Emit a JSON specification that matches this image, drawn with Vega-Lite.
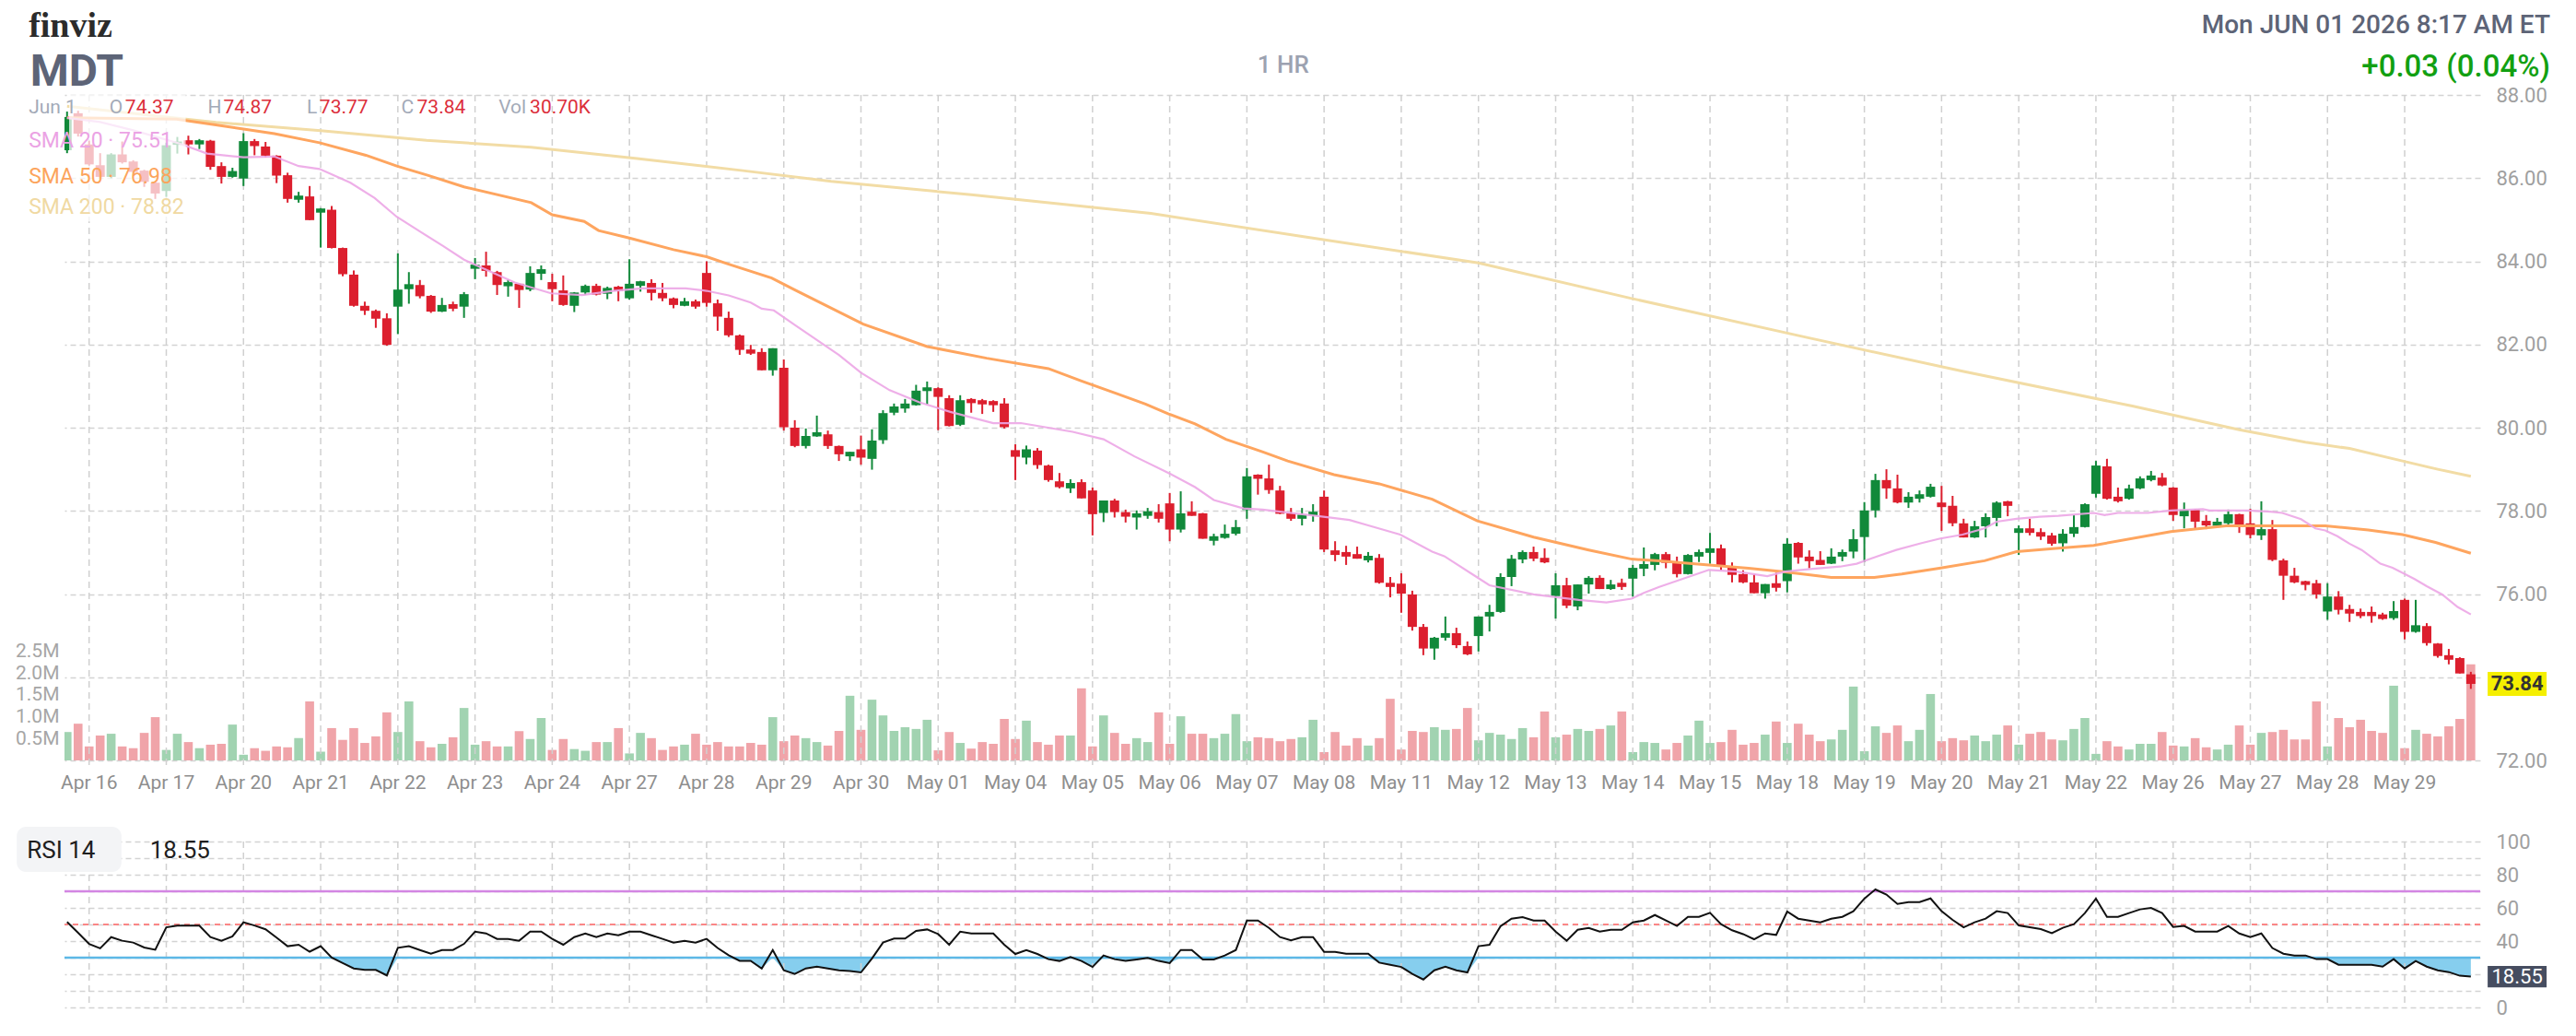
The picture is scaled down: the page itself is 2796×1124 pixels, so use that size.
{
"$schema": "https://vega.github.io/schema/vega-lite/v6.json",
"width": 2622,
"height": 1021,
"autosize": {"type": "none"},
"padding": {"left": 70, "top": 103, "right": 104, "bottom": 0},
"background": "#ffffff",
"config": {"view": {"stroke": null}, "font": "Roboto", "axis": {"labelFont": "Roboto"}, "text": {"font": "Roboto"}},
"datasets": {
"bars": [
{"i":-2,"o":86.67,"h":87.6,"l":86.6,"c":87.47,"v":650000,"r":51.5},
{"i":-1,"o":87.56,"h":87.62,"l":87.0,"c":87.07,"v":840000,"r":45.0},
{"i":0,"o":86.81,"h":86.9,"l":86.3,"c":86.33,"v":320000,"r":38.3},
{"i":1,"o":86.31,"h":86.6,"l":86.0,"c":86.03,"v":570000,"r":35.6},
{"i":2,"o":86.03,"h":86.6,"l":86.0,"c":86.57,"v":610000,"r":42.4},
{"i":3,"o":86.57,"h":86.88,"l":86.35,"c":86.38,"v":320000,"r":40.2},
{"i":4,"o":86.4,"h":86.43,"l":86.12,"c":86.15,"v":280000,"r":39.1},
{"i":5,"o":86.18,"h":86.2,"l":85.79,"c":85.91,"v":630000,"r":36.1},
{"i":6,"o":85.89,"h":85.9,"l":85.5,"c":85.63,"v":990000,"r":34.8},
{"i":7,"o":85.69,"h":86.85,"l":85.55,"c":86.79,"v":240000,"r":48.3},
{"i":8,"o":86.8,"h":86.99,"l":86.59,"c":86.88,"v":610000,"r":49.3},
{"i":9,"o":86.91,"h":87.02,"l":86.57,"c":86.81,"v":420000,"r":49.3},
{"i":10,"o":86.81,"h":86.94,"l":86.7,"c":86.91,"v":280000,"r":49.3},
{"i":11,"o":86.9,"h":86.92,"l":86.2,"c":86.27,"v":360000,"r":42.4},
{"i":12,"o":86.29,"h":86.38,"l":85.87,"c":86.03,"v":380000,"r":40.2},
{"i":13,"o":86.03,"h":86.25,"l":86.01,"c":86.17,"v":820000,"r":42.8},
{"i":14,"o":85.99,"h":87.08,"l":85.81,"c":86.89,"v":130000,"r":51.3},
{"i":15,"o":86.89,"h":86.94,"l":86.55,"c":86.77,"v":280000,"r":49.4},
{"i":16,"o":86.76,"h":86.87,"l":86.5,"c":86.54,"v":220000,"r":47.1},
{"i":17,"o":86.54,"h":86.55,"l":85.88,"c":86.06,"v":320000,"r":42.1},
{"i":18,"o":86.07,"h":86.13,"l":85.41,"c":85.5,"v":300000,"r":36.9},
{"i":19,"o":85.48,"h":85.67,"l":85.41,"c":85.58,"v":510000,"r":37.8},
{"i":20,"o":85.56,"h":85.81,"l":84.99,"c":84.99,"v":1350000,"r":33.6},
{"i":21,"o":85.17,"h":85.28,"l":84.33,"c":85.27,"v":200000,"r":36.9},
{"i":22,"o":85.24,"h":85.33,"l":84.31,"c":84.32,"v":740000,"r":30.0},
{"i":23,"o":84.32,"h":84.33,"l":83.64,"c":83.69,"v":470000,"r":26.7},
{"i":24,"o":83.68,"h":83.78,"l":82.91,"c":82.93,"v":740000,"r":23.5},
{"i":25,"o":82.93,"h":83.03,"l":82.71,"c":82.81,"v":400000,"r":22.6},
{"i":26,"o":82.81,"h":82.84,"l":82.4,"c":82.62,"v":550000,"r":22.6},
{"i":27,"o":82.63,"h":82.75,"l":81.97,"c":81.99,"v":1100000,"r":19.3},
{"i":28,"o":82.91,"h":84.19,"l":82.25,"c":83.32,"v":650000,"r":35.9},
{"i":29,"o":83.33,"h":83.74,"l":82.98,"c":83.45,"v":1350000,"r":36.9},
{"i":30,"o":83.43,"h":83.55,"l":83.11,"c":83.16,"v":440000,"r":34.6},
{"i":31,"o":83.17,"h":83.19,"l":82.76,"c":82.79,"v":300000,"r":32.4},
{"i":32,"o":82.79,"h":83.12,"l":82.78,"c":82.95,"v":380000,"r":34.6},
{"i":33,"o":82.97,"h":83.03,"l":82.8,"c":82.86,"v":530000,"r":34.6},
{"i":34,"o":82.91,"h":83.26,"l":82.64,"c":83.21,"v":1200000,"r":38.3},
{"i":35,"o":83.82,"h":84.08,"l":83.57,"c":83.92,"v":360000,"r":45.7},
{"i":36,"o":83.9,"h":84.23,"l":83.63,"c":83.77,"v":440000,"r":44.6},
{"i":37,"o":83.74,"h":83.77,"l":83.19,"c":83.43,"v":320000,"r":41.3},
{"i":38,"o":83.4,"h":83.56,"l":83.15,"c":83.5,"v":320000,"r":41.3},
{"i":39,"o":83.46,"h":83.47,"l":82.88,"c":83.31,"v":670000,"r":40.2},
{"i":40,"o":83.32,"h":83.88,"l":83.28,"c":83.72,"v":490000,"r":45.7},
{"i":41,"o":83.7,"h":83.9,"l":83.55,"c":83.81,"v":970000,"r":45.7},
{"i":42,"o":83.5,"h":83.7,"l":83.04,"c":83.33,"v":240000,"r":41.3},
{"i":43,"o":83.3,"h":83.66,"l":82.93,"c":82.95,"v":490000,"r":37.8},
{"i":44,"o":82.93,"h":83.26,"l":82.78,"c":83.25,"v":260000,"r":42.4},
{"i":45,"o":83.25,"h":83.44,"l":83.19,"c":83.41,"v":220000,"r":44.6},
{"i":46,"o":83.41,"h":83.46,"l":83.18,"c":83.2,"v":420000,"r":42.4},
{"i":47,"o":83.22,"h":83.39,"l":83.09,"c":83.36,"v":420000,"r":44.6},
{"i":48,"o":83.39,"h":83.41,"l":83.04,"c":83.29,"v":740000,"r":43.5},
{"i":49,"o":83.11,"h":84.05,"l":83.08,"c":83.46,"v":160000,"r":45.7},
{"i":50,"o":83.41,"h":83.53,"l":83.27,"c":83.52,"v":630000,"r":45.7},
{"i":51,"o":83.48,"h":83.57,"l":83.06,"c":83.24,"v":510000,"r":43.5},
{"i":52,"o":83.24,"h":83.48,"l":83.04,"c":83.11,"v":240000,"r":41.3},
{"i":53,"o":83.11,"h":83.13,"l":82.87,"c":82.95,"v":320000,"r":39.1},
{"i":54,"o":82.93,"h":83.12,"l":82.92,"c":83.04,"v":360000,"r":40.2},
{"i":55,"o":83.04,"h":83.08,"l":82.86,"c":82.91,"v":610000,"r":39.1},
{"i":56,"o":83.72,"h":84.0,"l":82.91,"c":83.0,"v":360000,"r":41.3},
{"i":57,"o":82.99,"h":83.08,"l":82.33,"c":82.67,"v":420000,"r":35.8},
{"i":58,"o":82.64,"h":82.79,"l":82.18,"c":82.22,"v":320000,"r":31.5},
{"i":59,"o":82.22,"h":82.24,"l":81.75,"c":81.87,"v":320000,"r":28.1},
{"i":60,"o":81.88,"h":81.99,"l":81.75,"c":81.78,"v":400000,"r":28.1},
{"i":61,"o":81.82,"h":81.91,"l":81.38,"c":81.38,"v":360000,"r":23.5},
{"i":62,"o":81.38,"h":81.91,"l":81.25,"c":81.91,"v":990000,"r":34.6},
{"i":63,"o":81.44,"h":81.64,"l":79.93,"c":80.01,"v":440000,"r":22.4},
{"i":64,"o":80.0,"h":80.18,"l":79.53,"c":79.56,"v":570000,"r":20.2},
{"i":65,"o":79.56,"h":79.98,"l":79.5,"c":79.8,"v":510000,"r":23.5},
{"i":66,"o":79.79,"h":80.29,"l":79.78,"c":79.89,"v":420000,"r":24.6},
{"i":67,"o":79.84,"h":79.93,"l":79.49,"c":79.56,"v":340000,"r":23.5},
{"i":68,"o":79.56,"h":79.57,"l":79.2,"c":79.36,"v":675000,"r":22.4},
{"i":69,"o":79.31,"h":79.42,"l":79.2,"c":79.42,"v":1480000,"r":22.0},
{"i":70,"o":79.48,"h":79.81,"l":79.11,"c":79.28,"v":700000,"r":21.1},
{"i":71,"o":79.25,"h":79.96,"l":78.99,"c":79.69,"v":1390000,"r":29.5},
{"i":72,"o":79.7,"h":80.42,"l":79.61,"c":80.35,"v":1030000,"r":39.1},
{"i":73,"o":80.36,"h":80.58,"l":80.3,"c":80.51,"v":675000,"r":41.5},
{"i":74,"o":80.46,"h":80.69,"l":80.36,"c":80.58,"v":760000,"r":41.5},
{"i":75,"o":80.54,"h":81.03,"l":80.53,"c":80.89,"v":720000,"r":46.1},
{"i":76,"o":80.88,"h":81.11,"l":80.56,"c":80.97,"v":930000,"r":47.0},
{"i":77,"o":80.95,"h":80.97,"l":79.94,"c":80.74,"v":230000,"r":44.2},
{"i":78,"o":80.71,"h":80.78,"l":80.03,"c":80.04,"v":650000,"r":37.8},
{"i":79,"o":80.07,"h":80.78,"l":80.04,"c":80.66,"v":400000,"r":45.7},
{"i":80,"o":80.69,"h":80.71,"l":80.36,"c":80.59,"v":270000,"r":44.6},
{"i":81,"o":80.66,"h":80.69,"l":80.33,"c":80.56,"v":420000,"r":44.6},
{"i":82,"o":80.64,"h":80.66,"l":80.38,"c":80.54,"v":380000,"r":44.6},
{"i":83,"o":80.58,"h":80.71,"l":79.98,"c":80.01,"v":950000,"r":37.8},
{"i":84,"o":79.46,"h":79.6,"l":78.74,"c":79.3,"v":490000,"r":32.2},
{"i":85,"o":79.28,"h":79.57,"l":79.12,"c":79.48,"v":910000,"r":34.6},
{"i":86,"o":79.45,"h":79.51,"l":79.01,"c":79.1,"v":420000,"r":32.2},
{"i":87,"o":79.09,"h":79.11,"l":78.7,"c":78.74,"v":360000,"r":29.1},
{"i":88,"o":78.71,"h":78.91,"l":78.54,"c":78.57,"v":570000,"r":28.0},
{"i":89,"o":78.54,"h":78.76,"l":78.43,"c":78.67,"v":570000,"r":30.4},
{"i":90,"o":78.69,"h":78.76,"l":78.3,"c":78.3,"v":1650000,"r":28.0},
{"i":91,"o":78.49,"h":78.56,"l":77.41,"c":77.92,"v":320000,"r":24.4},
{"i":92,"o":77.95,"h":78.25,"l":77.73,"c":78.25,"v":1030000,"r":31.3},
{"i":93,"o":78.25,"h":78.29,"l":77.84,"c":77.97,"v":630000,"r":29.1},
{"i":94,"o":77.97,"h":78.03,"l":77.72,"c":77.86,"v":380000,"r":28.0},
{"i":95,"o":77.84,"h":78.01,"l":77.55,"c":77.94,"v":510000,"r":28.9},
{"i":96,"o":77.88,"h":78.07,"l":77.81,"c":77.99,"v":420000,"r":29.9},
{"i":97,"o":77.97,"h":78.16,"l":77.72,"c":77.81,"v":1100000,"r":28.0},
{"i":98,"o":78.18,"h":78.43,"l":77.27,"c":77.55,"v":380000,"r":26.7},
{"i":99,"o":77.55,"h":78.47,"l":77.48,"c":77.94,"v":1010000,"r":34.6},
{"i":100,"o":77.98,"h":78.23,"l":77.88,"c":77.88,"v":610000,"r":34.6},
{"i":101,"o":77.94,"h":77.95,"l":77.33,"c":77.33,"v":610000,"r":28.9},
{"i":102,"o":77.28,"h":77.45,"l":77.17,"c":77.39,"v":510000,"r":28.9},
{"i":103,"o":77.35,"h":77.67,"l":77.33,"c":77.45,"v":610000,"r":31.3},
{"i":104,"o":77.45,"h":77.78,"l":77.41,"c":77.61,"v":1060000,"r":34.6},
{"i":105,"o":78.02,"h":79.03,"l":77.81,"c":78.83,"v":440000,"r":52.4},
{"i":106,"o":78.87,"h":78.88,"l":78.39,"c":78.77,"v":530000,"r":52.4},
{"i":107,"o":78.78,"h":79.11,"l":78.41,"c":78.5,"v":510000,"r":47.9},
{"i":108,"o":78.49,"h":78.6,"l":77.92,"c":77.93,"v":440000,"r":42.4},
{"i":109,"o":77.94,"h":78.07,"l":77.76,"c":77.81,"v":490000,"r":40.5},
{"i":110,"o":77.81,"h":78.07,"l":77.65,"c":77.91,"v":530000,"r":42.4},
{"i":111,"o":77.89,"h":78.16,"l":77.74,"c":77.98,"v":930000,"r":42.4},
{"i":112,"o":78.34,"h":78.49,"l":77.01,"c":77.07,"v":190000,"r":33.5},
{"i":113,"o":77.05,"h":77.27,"l":76.79,"c":76.94,"v":650000,"r":33.5},
{"i":114,"o":77.01,"h":77.16,"l":76.7,"c":76.9,"v":340000,"r":32.4},
{"i":115,"o":76.96,"h":77.14,"l":76.85,"c":76.85,"v":510000,"r":32.4},
{"i":116,"o":76.81,"h":77.01,"l":76.76,"c":76.92,"v":340000,"r":32.4},
{"i":117,"o":76.87,"h":76.96,"l":76.25,"c":76.27,"v":510000,"r":27.0},
{"i":118,"o":76.27,"h":76.41,"l":75.92,"c":76.17,"v":1410000,"r":25.7},
{"i":119,"o":76.25,"h":76.5,"l":75.55,"c":76.01,"v":250000,"r":24.4},
{"i":120,"o":75.99,"h":76.08,"l":75.12,"c":75.21,"v":675000,"r":20.2},
{"i":121,"o":75.21,"h":75.28,"l":74.53,"c":74.69,"v":650000,"r":16.8},
{"i":122,"o":74.69,"h":74.97,"l":74.42,"c":74.95,"v":760000,"r":22.4},
{"i":123,"o":74.95,"h":75.46,"l":74.88,"c":75.06,"v":700000,"r":24.6},
{"i":124,"o":75.06,"h":75.19,"l":74.7,"c":74.77,"v":720000,"r":22.4},
{"i":125,"o":74.75,"h":74.86,"l":74.53,"c":74.55,"v":1200000,"r":21.1},
{"i":126,"o":74.99,"h":75.46,"l":74.62,"c":75.46,"v":460000,"r":36.9},
{"i":127,"o":75.46,"h":75.74,"l":75.1,"c":75.57,"v":630000,"r":37.8},
{"i":128,"o":75.57,"h":76.5,"l":75.55,"c":76.41,"v":590000,"r":48.9},
{"i":129,"o":76.41,"h":76.94,"l":76.19,"c":76.85,"v":490000,"r":53.5},
{"i":130,"o":76.83,"h":77.05,"l":76.74,"c":77.01,"v":740000,"r":54.4},
{"i":131,"o":77.01,"h":77.14,"l":76.79,"c":76.85,"v":530000,"r":52.4},
{"i":132,"o":76.87,"h":77.1,"l":76.74,"c":76.76,"v":1120000,"r":52.4},
{"i":133,"o":75.95,"h":76.5,"l":75.41,"c":76.21,"v":530000,"r":45.7},
{"i":134,"o":76.21,"h":76.39,"l":75.66,"c":75.72,"v":590000,"r":40.2},
{"i":135,"o":75.7,"h":76.23,"l":75.61,"c":76.23,"v":720000,"r":46.8},
{"i":136,"o":76.23,"h":76.43,"l":76.01,"c":76.39,"v":675000,"r":47.9},
{"i":137,"o":76.39,"h":76.45,"l":76.12,"c":76.12,"v":720000,"r":45.7},
{"i":138,"o":76.12,"h":76.34,"l":76.1,"c":76.23,"v":800000,"r":46.8},
{"i":139,"o":76.27,"h":76.37,"l":76.1,"c":76.17,"v":1120000,"r":46.8},
{"i":140,"o":76.37,"h":76.7,"l":75.94,"c":76.63,"v":190000,"r":51.3},
{"i":141,"o":76.61,"h":77.12,"l":76.43,"c":76.72,"v":420000,"r":52.4},
{"i":142,"o":76.7,"h":76.99,"l":76.57,"c":76.96,"v":400000,"r":55.7},
{"i":143,"o":76.96,"h":77.01,"l":76.62,"c":76.75,"v":250000,"r":52.4},
{"i":144,"o":76.75,"h":76.9,"l":76.4,"c":76.48,"v":400000,"r":49.1},
{"i":145,"o":76.48,"h":76.96,"l":76.47,"c":76.94,"v":570000,"r":54.6},
{"i":146,"o":76.9,"h":77.07,"l":76.77,"c":77.01,"v":910000,"r":54.6},
{"i":147,"o":76.99,"h":77.47,"l":76.73,"c":77.1,"v":400000,"r":57.0},
{"i":148,"o":77.1,"h":77.19,"l":76.57,"c":76.66,"v":420000,"r":50.2},
{"i":149,"o":76.66,"h":76.76,"l":76.28,"c":76.46,"v":700000,"r":46.5},
{"i":150,"o":76.48,"h":76.57,"l":76.26,"c":76.28,"v":360000,"r":44.2},
{"i":151,"o":76.28,"h":76.48,"l":76.02,"c":76.02,"v":400000,"r":41.1},
{"i":152,"o":76.02,"h":76.24,"l":75.89,"c":76.24,"v":590000,"r":44.6},
{"i":153,"o":76.26,"h":76.51,"l":76.06,"c":76.15,"v":890000,"r":43.7},
{"i":154,"o":76.31,"h":77.34,"l":76.04,"c":77.21,"v":400000,"r":57.8},
{"i":155,"o":77.23,"h":77.25,"l":76.73,"c":76.88,"v":840000,"r":53.5},
{"i":156,"o":76.9,"h":77.05,"l":76.62,"c":76.79,"v":590000,"r":52.4},
{"i":157,"o":76.82,"h":77.03,"l":76.7,"c":76.7,"v":440000,"r":51.3},
{"i":158,"o":76.73,"h":77.1,"l":76.72,"c":76.9,"v":480000,"r":53.5},
{"i":159,"o":76.9,"h":77.07,"l":76.79,"c":77.01,"v":700000,"r":54.6},
{"i":160,"o":77.02,"h":77.56,"l":76.86,"c":77.32,"v":1690000,"r":58.0},
{"i":161,"o":77.37,"h":78.21,"l":76.77,"c":78.01,"v":210000,"r":65.6},
{"i":162,"o":78.01,"h":78.89,"l":77.84,"c":78.74,"v":780000,"r":71.1},
{"i":163,"o":78.74,"h":79.0,"l":78.29,"c":78.54,"v":630000,"r":68.0},
{"i":164,"o":78.54,"h":78.87,"l":78.18,"c":78.2,"v":800000,"r":62.4},
{"i":165,"o":78.2,"h":78.45,"l":78.07,"c":78.34,"v":440000,"r":63.5},
{"i":166,"o":78.29,"h":78.49,"l":78.2,"c":78.4,"v":700000,"r":63.5},
{"i":167,"o":78.34,"h":78.65,"l":78.32,"c":78.58,"v":1520000,"r":65.7},
{"i":168,"o":78.2,"h":78.6,"l":77.52,"c":78.09,"v":440000,"r":58.0},
{"i":169,"o":78.12,"h":78.36,"l":77.63,"c":77.7,"v":510000,"r":52.8},
{"i":170,"o":77.7,"h":77.81,"l":77.36,"c":77.36,"v":460000,"r":48.3},
{"i":171,"o":77.36,"h":77.76,"l":77.35,"c":77.63,"v":570000,"r":51.3},
{"i":172,"o":77.63,"h":77.94,"l":77.36,"c":77.85,"v":440000,"r":53.5},
{"i":173,"o":77.83,"h":78.23,"l":77.63,"c":78.2,"v":590000,"r":58.0},
{"i":174,"o":78.23,"h":78.24,"l":77.87,"c":78.12,"v":800000,"r":56.9},
{"i":175,"o":77.47,"h":77.65,"l":76.94,"c":77.58,"v":360000,"r":49.4},
{"i":176,"o":77.58,"h":77.81,"l":77.41,"c":77.47,"v":610000,"r":48.3},
{"i":177,"o":77.49,"h":77.58,"l":77.3,"c":77.38,"v":650000,"r":47.2},
{"i":178,"o":77.41,"h":77.47,"l":77.16,"c":77.21,"v":480000,"r":44.8},
{"i":179,"o":77.22,"h":77.56,"l":77.02,"c":77.45,"v":460000,"r":48.0},
{"i":180,"o":77.45,"h":77.9,"l":77.37,"c":77.61,"v":720000,"r":50.2},
{"i":181,"o":77.61,"h":78.18,"l":77.6,"c":78.16,"v":970000,"r":56.9},
{"i":182,"o":78.41,"h":79.2,"l":78.32,"c":79.09,"v":150000,"r":65.6},
{"i":183,"o":79.07,"h":79.25,"l":78.27,"c":78.29,"v":440000,"r":54.6},
{"i":184,"o":78.34,"h":78.56,"l":78.2,"c":78.23,"v":320000,"r":54.6},
{"i":185,"o":78.29,"h":78.63,"l":78.27,"c":78.54,"v":250000,"r":56.9},
{"i":186,"o":78.54,"h":78.83,"l":78.52,"c":78.78,"v":380000,"r":59.1},
{"i":187,"o":78.74,"h":78.96,"l":78.71,"c":78.85,"v":380000,"r":60.0},
{"i":188,"o":78.8,"h":78.91,"l":78.59,"c":78.61,"v":650000,"r":56.9},
{"i":189,"o":78.56,"h":78.57,"l":77.76,"c":77.9,"v":340000,"r":48.5},
{"i":190,"o":77.87,"h":78.2,"l":77.58,"c":78.03,"v":320000,"r":49.1},
{"i":191,"o":78.03,"h":78.04,"l":77.56,"c":77.74,"v":510000,"r":45.7},
{"i":192,"o":77.76,"h":77.9,"l":77.56,"c":77.65,"v":300000,"r":45.7},
{"i":193,"o":77.64,"h":77.83,"l":77.63,"c":77.74,"v":250000,"r":45.7},
{"i":194,"o":77.7,"h":78.03,"l":77.67,"c":77.92,"v":360000,"r":49.1},
{"i":195,"o":77.92,"h":77.93,"l":77.47,"c":77.65,"v":800000,"r":44.6},
{"i":196,"o":77.7,"h":78.05,"l":77.34,"c":77.42,"v":360000,"r":42.4},
{"i":197,"o":77.41,"h":78.23,"l":77.3,"c":77.56,"v":630000,"r":44.6},
{"i":198,"o":77.56,"h":77.78,"l":76.79,"c":76.82,"v":650000,"r":35.8},
{"i":199,"o":76.81,"h":76.85,"l":75.86,"c":76.44,"v":700000,"r":32.4},
{"i":200,"o":76.44,"h":76.63,"l":76.26,"c":76.28,"v":480000,"r":31.3},
{"i":201,"o":76.31,"h":76.32,"l":76.09,"c":76.22,"v":480000,"r":31.3},
{"i":202,"o":76.26,"h":76.34,"l":75.89,"c":75.99,"v":1350000,"r":29.1},
{"i":203,"o":75.58,"h":76.26,"l":75.38,"c":75.94,"v":320000,"r":29.1},
{"i":204,"o":75.94,"h":76.07,"l":75.51,"c":75.62,"v":970000,"r":25.7},
{"i":205,"o":75.64,"h":75.74,"l":75.33,"c":75.53,"v":760000,"r":25.7},
{"i":206,"o":75.57,"h":75.65,"l":75.42,"c":75.47,"v":930000,"r":25.7},
{"i":207,"o":75.57,"h":75.7,"l":75.31,"c":75.47,"v":675000,"r":25.7},
{"i":208,"o":75.51,"h":75.55,"l":75.38,"c":75.4,"v":630000,"r":24.6},
{"i":209,"o":75.42,"h":75.83,"l":75.38,"c":75.59,"v":1710000,"r":29.1},
{"i":210,"o":75.86,"h":75.89,"l":74.91,"c":75.09,"v":280000,"r":23.5},
{"i":211,"o":75.09,"h":75.86,"l":75.07,"c":75.25,"v":700000,"r":28.0},
{"i":212,"o":75.23,"h":75.3,"l":74.76,"c":74.82,"v":610000,"r":24.6},
{"i":213,"o":74.81,"h":74.82,"l":74.47,"c":74.51,"v":550000,"r":22.4},
{"i":214,"o":74.53,"h":74.68,"l":74.31,"c":74.42,"v":780000,"r":21.3},
{"i":215,"o":74.46,"h":74.48,"l":74.09,"c":74.09,"v":950000,"r":19.1},
{"i":216,"o":74.07,"h":74.13,"l":73.72,"c":73.84,"v":2200000,"r":18.55}
],
"days": [
{"d":"Apr 16","i":0},{"d":"Apr 17","i":7},{"d":"Apr 20","i":14},{"d":"Apr 21","i":21},{"d":"Apr 22","i":28},{"d":"Apr 23","i":35},{"d":"Apr 24","i":42},{"d":"Apr 27","i":49},{"d":"Apr 28","i":56},{"d":"Apr 29","i":63},{"d":"Apr 30","i":70},{"d":"May 01","i":77},{"d":"May 04","i":84},{"d":"May 05","i":91},{"d":"May 06","i":98},{"d":"May 07","i":105},{"d":"May 08","i":112},{"d":"May 11","i":119},{"d":"May 12","i":126},{"d":"May 13","i":133},{"d":"May 14","i":140},{"d":"May 15","i":147},{"d":"May 18","i":154},{"d":"May 19","i":161},{"d":"May 20","i":168},{"d":"May 21","i":175},{"d":"May 22","i":182},{"d":"May 26","i":189},{"d":"May 27","i":196},{"d":"May 28","i":203},{"d":"May 29","i":210}
],
"sma20": [
{"i":-2,"v":87.45},{"i":1,"v":87.35},{"i":4,"v":87.15},{"i":6,"v":87.0},{"i":8.2,"v":86.83},{"i":10.7,"v":86.59},{"i":14,"v":86.5},{"i":16.8,"v":86.52},{"i":19,"v":86.29},{"i":20.9,"v":86.22},{"i":23.7,"v":85.89},{"i":25.9,"v":85.52},{"i":27.9,"v":85.07},{"i":30.1,"v":84.7},{"i":32.1,"v":84.37},{"i":34,"v":84.04},{"i":35.8,"v":83.82},{"i":38.6,"v":83.49},{"i":41.9,"v":83.23},{"i":44.7,"v":83.19},{"i":47.5,"v":83.29},{"i":50.2,"v":83.35},{"i":54.1,"v":83.35},{"i":56,"v":83.29},{"i":58,"v":83.18},{"i":60,"v":83.01},{"i":61,"v":82.86},{"i":62.1,"v":82.82},{"i":64.1,"v":82.45},{"i":68,"v":81.75},{"i":70,"v":81.32},{"i":72.6,"v":80.9},{"i":75.3,"v":80.61},{"i":78.1,"v":80.38},{"i":82,"v":80.11},{"i":84.5,"v":80.11},{"i":89.2,"v":79.9},{"i":92,"v":79.72},{"i":94.8,"v":79.31},{"i":97.9,"v":78.91},{"i":100.3,"v":78.57},{"i":102,"v":78.26},{"i":104.7,"v":78.06},{"i":106.4,"v":78.03},{"i":111.6,"v":77.87},{"i":114.3,"v":77.78},{"i":116,"v":77.65},{"i":118.9,"v":77.43},{"i":121.8,"v":77.02},{"i":122.9,"v":76.91},{"i":125.9,"v":76.4},{"i":127,"v":76.21},{"i":131,"v":75.99},{"i":135.1,"v":75.86},{"i":137.6,"v":75.8},{"i":139.9,"v":75.89},{"i":141,"v":76.03},{"i":142.4,"v":76.17},{"i":146.9,"v":76.58},{"i":149.4,"v":76.54},{"i":152.2,"v":76.43},{"i":153.8,"v":76.54},{"i":156.1,"v":76.6},{"i":158.8,"v":76.66},{"i":160.3,"v":76.73},{"i":162.2,"v":76.91},{"i":163.9,"v":77.06},{"i":166.1,"v":77.22},{"i":167.8,"v":77.33},{"i":169.9,"v":77.43},{"i":171.9,"v":77.58},{"i":173,"v":77.74},{"i":174.8,"v":77.81},{"i":176.9,"v":77.86},{"i":178.6,"v":77.88},{"i":181.8,"v":77.95},{"i":182.8,"v":77.9},{"i":184,"v":77.95},{"i":186.7,"v":77.95},{"i":188.8,"v":78.01},{"i":191.7,"v":78.04},{"i":192.3,"v":78.01},{"i":195.8,"v":78.01},{"i":197.8,"v":77.98},{"i":198.9,"v":77.95},{"i":200.6,"v":77.8},{"i":201.9,"v":77.58},{"i":202.8,"v":77.53},{"i":203.9,"v":77.39},{"i":205,"v":77.21},{"i":206.1,"v":77.06},{"i":207.8,"v":76.73},{"i":208.9,"v":76.63},{"i":209.8,"v":76.51},{"i":210.9,"v":76.36},{"i":212,"v":76.19},{"i":213.4,"v":75.99},{"i":214.8,"v":75.69},{"i":216,"v":75.51}
],
"sma50": [
{"i":-2,"v":87.45},{"i":7.9,"v":87.42},{"i":11.5,"v":87.28},{"i":14,"v":87.18},{"i":16.8,"v":87.07},{"i":20.9,"v":86.85},{"i":25.1,"v":86.55},{"i":27.9,"v":86.29},{"i":30.7,"v":86.07},{"i":34,"v":85.79},{"i":40.1,"v":85.41},{"i":42,"v":85.12},{"i":44.9,"v":84.96},{"i":46.2,"v":84.74},{"i":49,"v":84.56},{"i":53,"v":84.28},{"i":56,"v":84.11},{"i":58,"v":83.93},{"i":61.9,"v":83.6},{"i":64.1,"v":83.3},{"i":66.9,"v":82.93},{"i":70.2,"v":82.49},{"i":76,"v":81.95},{"i":81.4,"v":81.67},{"i":87,"v":81.42},{"i":90,"v":81.12},{"i":93.1,"v":80.83},{"i":95.8,"v":80.57},{"i":97.9,"v":80.33},{"i":100.3,"v":80.09},{"i":103.1,"v":79.72},{"i":106.4,"v":79.42},{"i":108.7,"v":79.2},{"i":112.9,"v":78.87},{"i":117,"v":78.65},{"i":121.8,"v":78.28},{"i":125.9,"v":77.76},{"i":131,"v":77.37},{"i":136,"v":77.06},{"i":139.9,"v":76.84},{"i":142.4,"v":76.8},{"i":146.9,"v":76.7},{"i":150.5,"v":76.62},{"i":153.8,"v":76.53},{"i":158,"v":76.4},{"i":161.9,"v":76.4},{"i":164.4,"v":76.48},{"i":167.8,"v":76.62},{"i":171.9,"v":76.8},{"i":174.8,"v":77.02},{"i":178.6,"v":77.1},{"i":181.8,"v":77.17},{"i":188.8,"v":77.5},{"i":193.8,"v":77.64},{"i":202.8,"v":77.64},{"i":206.7,"v":77.54},{"i":209.8,"v":77.43},{"i":212.8,"v":77.24},{"i":216,"v":76.98}
],
"sma200": [
{"i":-2,"v":87.73},{"i":11.5,"v":87.34},{"i":21,"v":87.14},{"i":30.6,"v":86.91},{"i":40.1,"v":86.74},{"i":49.7,"v":86.47},{"i":59.3,"v":86.18},{"i":67.3,"v":85.92},{"i":80,"v":85.6},{"i":96.3,"v":85.15},{"i":110,"v":84.6},{"i":126,"v":83.96},{"i":140,"v":83.1},{"i":155.6,"v":82.18},{"i":170,"v":81.35},{"i":185.3,"v":80.52},{"i":195,"v":79.95},{"i":201,"v":79.65},{"i":205,"v":79.5},{"i":209.8,"v":79.2},{"i":213,"v":79.0},{"i":216,"v":78.83}
]
},
"layer": [
{
"data": {"name": "bars"},
"mark": {"type": "bar", "width": 9.6, "clip": true},
"encoding": {
"x": {"field": "i", "type": "quantitative", "scale": {"domain": [-1.815, 216.43], "nice": false, "zero": false}, "axis": null},
"y": {"field": "v", "type": "quantitative", "scale": {"domain": [0, 2500000], "range": [722, 603.5], "nice": false}, "axis": {"orient": "left", "values": [500000, 1000000, 1500000, 2000000, 2500000], "labelExpr": "format(datum.value/1000000, '.1f') + 'M'", "grid": false, "domain": false, "ticks": false, "labelPadding": 6, "labelFontSize": 21, "labelColor": "#a6a6a6", "title": null}},
"y2": {"datum": 0},
"color": {"condition": {"test": "datum.c >= datum.o", "value": "#a1d3b1"}, "value": "#f0a4a9"}
}
},
{
"data": {"name": "days"},
"mark": {"type": "rule", "strokeDash": [7, 5], "color": "#d0d0d0", "strokeWidth": 1.5},
"encoding": {
"x": {"field": "i", "type": "quantitative", "scale": {"domain": [-1.815, 216.43], "nice": false, "zero": false}, "axis": null},
"y": {"datum": 88, "type": "quantitative", "scale": {"domain": [72, 88], "range": [722, 0], "nice": false, "zero": false}, "axis": {"orient": "right", "values": [72, 74, 76, 78, 80, 82, 84, 86, 88], "format": ".2f", "labelExpr": "datum.value === 74 ? '' : datum.label", "grid": true, "gridDash": [6, 4], "gridColor": "#d3d3d3", "gridWidth": 1.5, "domain": false, "ticks": false, "labelPadding": 17, "labelFontSize": 22, "labelColor": "#a0a0a0", "labelAlign": "left", "labelBaseline": "middle", "title": null}},
"y2": {"datum": 71.8}
}
},
{
"data": {"name": "bars"},
"mark": {"type": "rule", "strokeWidth": 2, "clip": true},
"encoding": {
"x": {"field": "i", "type": "quantitative", "scale": {"domain": [-1.815, 216.43], "nice": false, "zero": false}, "axis": null},
"y": {"field": "l", "type": "quantitative", "scale": {"domain": [72, 88], "range": [722, 0], "nice": false, "zero": false}, "axis": null},
"y2": {"field": "h"},
"color": {"condition": {"test": "datum.c >= datum.o", "value": "#11893a"}, "value": "#dc1f2e"}
}
},
{
"data": {"name": "bars"},
"mark": {"type": "bar", "width": 10, "clip": true},
"encoding": {
"x": {"field": "i", "type": "quantitative", "scale": {"domain": [-1.815, 216.43], "nice": false, "zero": false}, "axis": null},
"y": {"field": "o", "type": "quantitative", "scale": {"domain": [72, 88], "range": [722, 0], "nice": false, "zero": false}, "axis": null},
"y2": {"field": "c"},
"color": {"condition": {"test": "datum.c >= datum.o", "value": "#11893a"}, "value": "#dc1f2e"}
}
},
{
"data": {"name": "sma200"},
"mark": {"type": "line", "color": "#f2dca5", "strokeWidth": 3, "clip": true},
"encoding": {
"x": {"field": "i", "type": "quantitative", "scale": {"domain": [-1.815, 216.43], "nice": false, "zero": false}, "axis": null},
"y": {"field": "v", "type": "quantitative", "scale": {"domain": [72, 88], "range": [722, 0], "nice": false, "zero": false}, "axis": null}
}
},
{
"data": {"name": "sma50"},
"mark": {"type": "line", "color": "#fea55f", "strokeWidth": 3, "clip": true},
"encoding": {
"x": {"field": "i", "type": "quantitative", "scale": {"domain": [-1.815, 216.43], "nice": false, "zero": false}, "axis": null},
"y": {"field": "v", "type": "quantitative", "scale": {"domain": [72, 88], "range": [722, 0], "nice": false, "zero": false}, "axis": null}
}
},
{
"data": {"name": "sma20"},
"mark": {"type": "line", "color": "#eca6e6", "strokeWidth": 2.2, "clip": true, "opacity": 0.9},
"encoding": {
"x": {"field": "i", "type": "quantitative", "scale": {"domain": [-1.815, 216.43], "nice": false, "zero": false}, "axis": null},
"y": {"field": "v", "type": "quantitative", "scale": {"domain": [72, 88], "range": [722, 0], "nice": false, "zero": false}, "axis": null}
}
},
{
"data": {"values": [{}]},
"mark": {"type": "rect", "color": "#ffffff", "opacity": 0.72},
"encoding": {
"x": {"datum": -1.815, "type": "quantitative", "axis": null},
"x2": {"datum": 8.76},
"y": {"datum": 88, "type": "quantitative", "scale": {"domain": [72, 88], "range": [722, 0], "nice": false, "zero": false}, "axis": null},
"y2": {"datum": 84.96}
}
},
{
"data": {"name": "days"},
"mark": {"type": "text", "fontSize": 21, "color": "#8e8e8e", "baseline": "middle", "align": "center"},
"encoding": {
"x": {"field": "i", "type": "quantitative", "scale": {"domain": [-1.815, 216.43], "nice": false, "zero": false}, "axis": null},
"y": {"datum": 71.45, "type": "quantitative", "scale": {"domain": [72, 88], "range": [722, 0], "nice": false, "zero": false}, "axis": null},
"text": {"field": "d", "type": "nominal"}
}
},
{"data": {"values": [{}]}, "mark": {"type": "text", "text": "finviz", "font": "Liberation Serif", "fontSize": 38, "fontWeight": "bold", "color": "#2b2b2b", "align": "left", "baseline": "alphabetic"}, "encoding": {"x": {"datum": -5.48, "type": "quantitative", "axis": null}, "y": {"datum": 89.4, "type": "quantitative", "scale": {"domain": [72, 88], "range": [722, 0], "nice": false, "zero": false}, "axis": null}}},
{"data": {"values": [{}]}, "mark": {"type": "text", "text": "MDT", "fontSize": 48, "fontWeight": "bold", "color": "#5d6477", "align": "left", "baseline": "alphabetic"}, "encoding": {"x": {"datum": -5.35, "type": "quantitative", "axis": null}, "y": {"datum": 88.22, "type": "quantitative", "scale": {"domain": [72, 88], "range": [722, 0], "nice": false, "zero": false}, "axis": null}}},
{"data": {"values": [{}]}, "mark": {"type": "text", "text": "1 HR", "fontSize": 26, "fontWeight": 500, "color": "#9ca2b1", "align": "center", "baseline": "middle"}, "encoding": {"x": {"datum": 108.3, "type": "quantitative", "axis": null}, "y": {"datum": 88.71, "type": "quantitative", "scale": {"domain": [72, 88], "range": [722, 0], "nice": false, "zero": false}, "axis": null}}},
{"data": {"values": [{}]}, "mark": {"type": "text", "text": "Mon JUN 01 2026 8:17 AM ET", "fontSize": 28, "fontWeight": 500, "color": "#5d6477", "align": "right", "baseline": "middle"}, "encoding": {"x": {"datum": 223.2, "type": "quantitative", "axis": null}, "y": {"datum": 89.66, "type": "quantitative", "scale": {"domain": [72, 88], "range": [722, 0], "nice": false, "zero": false}, "axis": null}}},
{"data": {"values": [{}]}, "mark": {"type": "text", "text": "+0.03 (0.04%)", "fontSize": 33, "fontWeight": 500, "color": "#12a012", "align": "right", "baseline": "middle"}, "encoding": {"x": {"datum": 223.2, "type": "quantitative", "axis": null}, "y": {"datum": 88.665, "type": "quantitative", "scale": {"domain": [72, 88], "range": [722, 0], "nice": false, "zero": false}, "axis": null}}},
{"data": {"values": [{}]}, "mark": {"type": "text", "text": "Jun 1", "fontSize": 21, "color": "#a3aab8", "align": "left", "baseline": "middle"}, "encoding": {"x": {"datum": -5.48, "type": "quantitative", "axis": null}, "y": {"datum": 87.69, "type": "quantitative", "scale": {"domain": [72, 88], "range": [722, 0], "nice": false, "zero": false}, "axis": null}}},
{"data": {"values": [{}]}, "mark": {"type": "text", "text": "O", "fontSize": 21, "color": "#a3aab8", "align": "left", "baseline": "middle"}, "encoding": {"x": {"datum": 1.85, "type": "quantitative", "axis": null}, "y": {"datum": 87.69, "type": "quantitative", "scale": {"domain": [72, 88], "range": [722, 0], "nice": false, "zero": false}, "axis": null}}},
{"data": {"values": [{}]}, "mark": {"type": "text", "text": "74.37", "fontSize": 21, "color": "#dc2f3b", "align": "left", "baseline": "middle"}, "encoding": {"x": {"datum": 3.27, "type": "quantitative", "axis": null}, "y": {"datum": 87.69, "type": "quantitative", "scale": {"domain": [72, 88], "range": [722, 0], "nice": false, "zero": false}, "axis": null}}},
{"data": {"values": [{}]}, "mark": {"type": "text", "text": "H", "fontSize": 21, "color": "#a3aab8", "align": "left", "baseline": "middle"}, "encoding": {"x": {"datum": 10.76, "type": "quantitative", "axis": null}, "y": {"datum": 87.69, "type": "quantitative", "scale": {"domain": [72, 88], "range": [722, 0], "nice": false, "zero": false}, "axis": null}}},
{"data": {"values": [{}]}, "mark": {"type": "text", "text": "74.87", "fontSize": 21, "color": "#dc2f3b", "align": "left", "baseline": "middle"}, "encoding": {"x": {"datum": 12.17, "type": "quantitative", "axis": null}, "y": {"datum": 87.69, "type": "quantitative", "scale": {"domain": [72, 88], "range": [722, 0], "nice": false, "zero": false}, "axis": null}}},
{"data": {"values": [{}]}, "mark": {"type": "text", "text": "L", "fontSize": 21, "color": "#a3aab8", "align": "left", "baseline": "middle"}, "encoding": {"x": {"datum": 19.74, "type": "quantitative", "axis": null}, "y": {"datum": 87.69, "type": "quantitative", "scale": {"domain": [72, 88], "range": [722, 0], "nice": false, "zero": false}, "axis": null}}},
{"data": {"values": [{}]}, "mark": {"type": "text", "text": "73.77", "fontSize": 21, "color": "#dc2f3b", "align": "left", "baseline": "middle"}, "encoding": {"x": {"datum": 20.9, "type": "quantitative", "axis": null}, "y": {"datum": 87.69, "type": "quantitative", "scale": {"domain": [72, 88], "range": [722, 0], "nice": false, "zero": false}, "axis": null}}},
{"data": {"values": [{}]}, "mark": {"type": "text", "text": "C", "fontSize": 21, "color": "#a3aab8", "align": "left", "baseline": "middle"}, "encoding": {"x": {"datum": 28.3, "type": "quantitative", "axis": null}, "y": {"datum": 87.69, "type": "quantitative", "scale": {"domain": [72, 88], "range": [722, 0], "nice": false, "zero": false}, "axis": null}}},
{"data": {"values": [{}]}, "mark": {"type": "text", "text": "73.84", "fontSize": 21, "color": "#dc2f3b", "align": "left", "baseline": "middle"}, "encoding": {"x": {"datum": 29.73, "type": "quantitative", "axis": null}, "y": {"datum": 87.69, "type": "quantitative", "scale": {"domain": [72, 88], "range": [722, 0], "nice": false, "zero": false}, "axis": null}}},
{"data": {"values": [{}]}, "mark": {"type": "text", "text": "Vol", "fontSize": 21, "color": "#a3aab8", "align": "left", "baseline": "middle"}, "encoding": {"x": {"datum": 37.14, "type": "quantitative", "axis": null}, "y": {"datum": 87.69, "type": "quantitative", "scale": {"domain": [72, 88], "range": [722, 0], "nice": false, "zero": false}, "axis": null}}},
{"data": {"values": [{}]}, "mark": {"type": "text", "text": "30.70K", "fontSize": 21, "color": "#dc2f3b", "align": "left", "baseline": "middle"}, "encoding": {"x": {"datum": 39.97, "type": "quantitative", "axis": null}, "y": {"datum": 87.69, "type": "quantitative", "scale": {"domain": [72, 88], "range": [722, 0], "nice": false, "zero": false}, "axis": null}}},
{"data": {"values": [{}]}, "mark": {"type": "text", "text": "SMA 20 · 75.51", "fontSize": 23, "color": "#eba3e4", "align": "left", "baseline": "middle"}, "encoding": {"x": {"datum": -5.48, "type": "quantitative", "axis": null}, "y": {"datum": 86.89, "type": "quantitative", "scale": {"domain": [72, 88], "range": [722, 0], "nice": false, "zero": false}, "axis": null}}},
{"data": {"values": [{}]}, "mark": {"type": "text", "text": "SMA 50 · 76.98", "fontSize": 23, "color": "#fca45c", "align": "left", "baseline": "middle"}, "encoding": {"x": {"datum": -5.48, "type": "quantitative", "axis": null}, "y": {"datum": 86.03, "type": "quantitative", "scale": {"domain": [72, 88], "range": [722, 0], "nice": false, "zero": false}, "axis": null}}},
{"data": {"values": [{}]}, "mark": {"type": "text", "text": "SMA 200 · 78.82", "fontSize": 23, "color": "#f0d9a2", "align": "left", "baseline": "middle"}, "encoding": {"x": {"datum": -5.48, "type": "quantitative", "axis": null}, "y": {"datum": 85.3, "type": "quantitative", "scale": {"domain": [72, 88], "range": [722, 0], "nice": false, "zero": false}, "axis": null}}},
{
"data": {"name": "bars"},
"transform": [{"filter": "datum.i == 216"}],
"mark": {"type": "point", "shape": "M-1,-0.406L1,-0.406L1,0.406L-1,0.406Z", "size": 4096, "filled": true, "color": "#f5ef00", "opacity": 1, "strokeWidth": 0},
"encoding": {
"x": {"datum": 220.2, "type": "quantitative", "axis": null},
"y": {"field": "c", "type": "quantitative", "scale": {"domain": [72, 88], "range": [722, 0], "nice": false, "zero": false}, "axis": null}
}
},
{
"data": {"name": "bars"},
"transform": [{"filter": "datum.i == 216"}],
"mark": {"type": "text", "fontSize": 22, "fontWeight": "bold", "color": "#333333", "align": "center", "baseline": "middle"},
"encoding": {
"x": {"datum": 220.2, "type": "quantitative", "axis": null},
"y": {"field": "c", "type": "quantitative", "scale": {"domain": [72, 88], "range": [722, 0], "nice": false, "zero": false}, "axis": null},
"text": {"field": "c", "type": "quantitative", "format": ".2f"}
}
},
{
"data": {"name": "bars"},
"mark": {"type": "area", "color": "#86ceee", "opacity": 1, "clip": true},
"encoding": {
"x": {"field": "i", "type": "quantitative", "scale": {"domain": [-1.815, 216.43], "nice": false, "zero": false}, "axis": null},
"y": {"field": "r", "type": "quantitative", "scale": {"domain": [0, 30], "range": [990, 936], "clamp": true, "nice": false, "zero": false}, "axis": null},
"y2": {"datum": 30}
}
},
{
"data": {"name": "days"},
"mark": {"type": "rule", "strokeDash": [7, 5], "color": "#d0d0d0", "strokeWidth": 1.5},
"encoding": {
"x": {"field": "i", "type": "quantitative", "scale": {"domain": [-1.815, 216.43], "nice": false, "zero": false}, "axis": null},
"y": {"datum": 100, "type": "quantitative", "scale": {"domain": [0, 100], "range": [990, 810], "nice": false, "zero": false}, "axis": {"orient": "right", "values": [0, 10, 20, 30, 40, 50, 60, 70, 80, 90, 100], "labelExpr": "(datum.value % 20 === 0 && datum.value !== 20) ? datum.label : ''", "grid": true, "gridDash": [6, 4], "gridColor": "#d3d3d3", "gridWidth": 1.5, "domain": false, "ticks": false, "labelPadding": 17, "labelFontSize": 22, "labelColor": "#a0a0a0", "labelAlign": "left", "labelBaseline": "middle", "title": null}},
"y2": {"datum": 0}
}
},
{"data": {"values": [{}]}, "mark": {"type": "rule", "color": "#d386e3", "strokeWidth": 2.5}, "encoding": {"y": {"datum": 70, "type": "quantitative", "scale": {"domain": [0, 100], "range": [990, 810], "nice": false, "zero": false}, "axis": null}}},
{"data": {"values": [{}]}, "mark": {"type": "rule", "color": "#fa8686", "strokeWidth": 2, "strokeDash": [6, 5]}, "encoding": {"y": {"datum": 50, "type": "quantitative", "scale": {"domain": [0, 100], "range": [990, 810], "nice": false, "zero": false}, "axis": null}}},
{"data": {"values": [{}]}, "mark": {"type": "rule", "color": "#5db8e6", "strokeWidth": 2.5}, "encoding": {"y": {"datum": 30, "type": "quantitative", "scale": {"domain": [0, 100], "range": [990, 810], "nice": false, "zero": false}, "axis": null}}},
{
"data": {"name": "bars"},
"mark": {"type": "line", "color": "#111111", "strokeWidth": 2, "clip": true},
"encoding": {
"x": {"field": "i", "type": "quantitative", "scale": {"domain": [-1.815, 216.43], "nice": false, "zero": false}, "axis": null},
"y": {"field": "r", "type": "quantitative", "scale": {"domain": [0, 100], "range": [990, 810], "nice": false, "zero": false}, "axis": null}
}
},
{
"data": {"values": [{}]},
"mark": {"type": "rect", "color": "#f3f4f6", "cornerRadius": 10},
"encoding": {
"x": {"datum": -6.56, "type": "quantitative", "axis": null},
"x2": {"datum": 2.93},
"y": {"datum": 108.9, "type": "quantitative", "scale": {"domain": [0, 100], "range": [990, 810], "nice": false, "zero": false}, "axis": null},
"y2": {"datum": 81.7}
}
},
{"data": {"values": [{}]}, "mark": {"type": "text", "text": "RSI 14", "fontSize": 26, "color": "#1e1e1e", "align": "left", "baseline": "middle"}, "encoding": {"x": {"datum": -5.64, "type": "quantitative", "axis": null}, "y": {"datum": 94.4, "type": "quantitative", "scale": {"domain": [0, 100], "range": [990, 810], "nice": false, "zero": false}, "axis": null}}},
{"data": {"values": [{}]}, "mark": {"type": "text", "text": "18.55", "fontSize": 26, "color": "#1e1e1e", "align": "left", "baseline": "middle"}, "encoding": {"x": {"datum": 5.51, "type": "quantitative", "axis": null}, "y": {"datum": 94.4, "type": "quantitative", "scale": {"domain": [0, 100], "range": [990, 810], "nice": false, "zero": false}, "axis": null}}},
{
"data": {"name": "bars"},
"transform": [{"filter": "datum.i == 216"}],
"mark": {"type": "point", "shape": "M-1,-0.36L1,-0.36L1,0.36L-1,0.36Z", "size": 4096, "filled": true, "color": "#464d60", "opacity": 1, "strokeWidth": 0},
"encoding": {
"x": {"datum": 220.2, "type": "quantitative", "axis": null},
"y": {"field": "r", "type": "quantitative", "scale": {"domain": [0, 100], "range": [990, 810], "nice": false, "zero": false}, "axis": null}
}
},
{
"data": {"name": "bars"},
"transform": [{"filter": "datum.i == 216"}],
"mark": {"type": "text", "fontSize": 22, "color": "#ffffff", "align": "center", "baseline": "middle"},
"encoding": {
"x": {"datum": 220.2, "type": "quantitative", "axis": null},
"y": {"field": "r", "type": "quantitative", "scale": {"domain": [0, 100], "range": [990, 810], "nice": false, "zero": false}, "axis": null},
"text": {"field": "r", "type": "quantitative", "format": ".2f"}
}
}
],
"resolve": {"scale": {"y": "independent"}, "axis": {"y": "independent"}}
}
